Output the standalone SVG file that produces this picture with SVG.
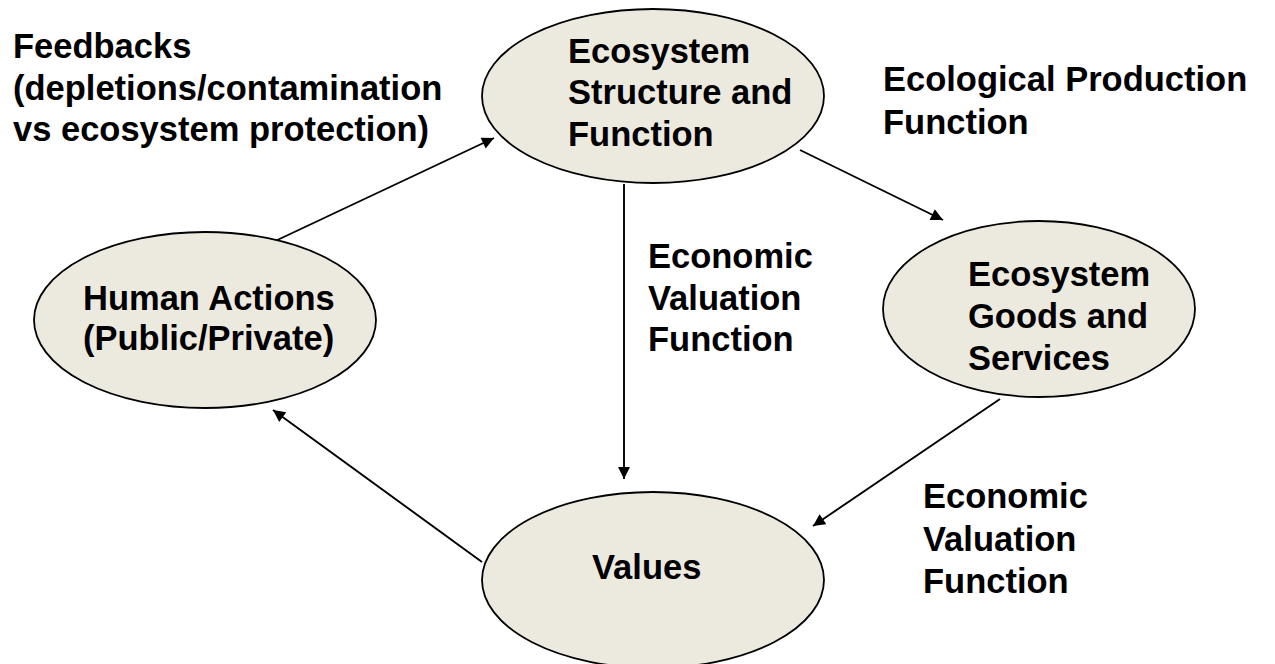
<svg xmlns="http://www.w3.org/2000/svg" width="1275" height="664" viewBox="0 0 1275 664">
  <defs>
    <marker id="arrow" viewBox="0 0 10 10" refX="10" refY="5" markerWidth="13" markerHeight="12" markerUnits="userSpaceOnUse" orient="auto">
      <path d="M0,0 L10,5 L0,10 z" fill="#000"/>
    </marker>
    <style>
      .node { fill: #ECEADF; stroke: #000; stroke-width: 1.8; }
      .txt { font-family: "Liberation Sans", Arial, sans-serif; font-weight: bold; font-size: 34.5px; fill: #000; }
      .conn { stroke: #000; stroke-width: 1.9; fill: none; marker-end: url(#arrow); }
    </style>
  </defs>
  <rect width="1275" height="664" fill="#fff"/>

  <!-- connectors -->
  <g id="connectors">
    <line class="conn" x1="271" y1="243" x2="494" y2="138"/>
    <line class="conn" x1="800" y1="150" x2="943" y2="220"/>
    <line class="conn" x1="624" y1="184" x2="624" y2="479"/>
    <line class="conn" x1="1000" y1="399" x2="813" y2="526"/>
    <line class="conn" x1="482" y1="562" x2="273" y2="410"/>
  </g>

  <!-- nodes -->
  <g id="ecosystem-structure">
    <ellipse class="node" cx="653" cy="96" rx="171" ry="87"/>
    <text class="txt" x="568" y="63">Ecosystem</text>
    <text class="txt" x="568" y="104">Structure and</text>
    <text class="txt" x="568" y="146">Function</text>
  </g>

  <g id="human-actions">
    <ellipse class="node" cx="205" cy="320" rx="171" ry="88"/>
    <text class="txt" x="83" y="310">Human Actions</text>
    <text class="txt" x="83" y="350">(Public/Private)</text>
  </g>

  <g id="goods-services">
    <ellipse class="node" cx="1039" cy="309" rx="156" ry="88"/>
    <text class="txt" x="968" y="286">Ecosystem</text>
    <text class="txt" x="968" y="328">Goods and</text>
    <text class="txt" x="968" y="370">Services</text>
  </g>

  <g id="values">
    <ellipse class="node" cx="653" cy="580" rx="171" ry="88"/>
    <text class="txt" x="592" y="579">Values</text>
  </g>

  <!-- labels -->
  <g id="label-feedbacks">
    <text class="txt" x="13" y="58">Feedbacks</text>
    <text class="txt" x="13" y="100">(depletions/contamination</text>
    <text class="txt" x="13" y="141">vs ecosystem protection)</text>
  </g>
  <g id="label-ecological">
    <text class="txt" x="883" y="91">Ecological Production</text>
    <text class="txt" x="883" y="134">Function</text>
  </g>
  <g id="label-valuation-center">
    <text class="txt" x="648" y="268">Economic</text>
    <text class="txt" x="648" y="310">Valuation</text>
    <text class="txt" x="648" y="351">Function</text>
  </g>
  <g id="label-valuation-right">
    <text class="txt" x="923" y="508">Economic</text>
    <text class="txt" x="923" y="551">Valuation</text>
    <text class="txt" x="923" y="593">Function</text>
  </g>
</svg>
